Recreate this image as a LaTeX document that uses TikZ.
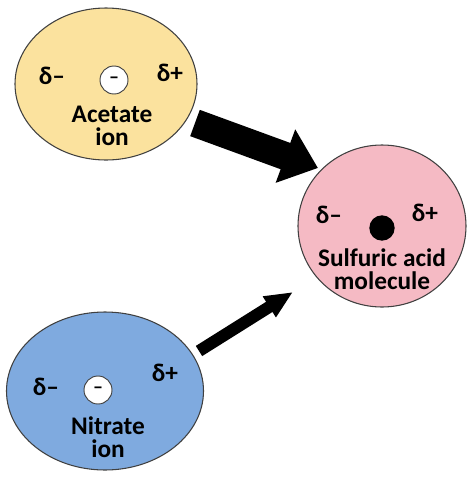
\documentclass[tikz,border=0pt]{standalone}
\usepackage{fontspec}
\setmainfont{Carlito}
\usetikzlibrary{arrows.meta,shapes.geometric}
\definecolor{acetfill}{HTML}{FBE29E}
\definecolor{sulffill}{HTML}{F5BAC4}
\definecolor{nitrfill}{HTML}{7FAADF}
\definecolor{edgecol}{HTML}{404040}
\tikzset{
  mol/.style={ellipse, draw=edgecol, line width=0.8pt, inner sep=0pt},
  lbl/.style={font=\bfseries\fontsize{19}{17.5}\selectfont, align=center, inner sep=0pt},
  dlt/.style={font=\bfseries\fontsize{19}{19}\selectfont, inner sep=0pt},
  chg/.style={circle, draw=edgecol, fill=white, line width=0.7pt, minimum size=21pt, inner sep=0pt, font=\bfseries\fontsize{15}{15}\selectfont},
  bigarrow/.style={line width=21pt, -{Triangle[length=26pt,width=41pt]}},
  smallarrow/.style={line width=9pt, -{Triangle[length=21pt,width=17pt]}}
}
\begin{document}
\begin{tikzpicture}[x=0.75pt,y=-0.75pt]
\useasboundingbox (0,0) rectangle (474,479);
% acetate
\node[mol, fill=acetfill, minimum width=182*0.75pt, minimum height=152*0.75pt] (acet) at (106,84) {};
\node[dlt] (acetdm) at (52,76) {δ–};
\node[dlt] (acetdp) at (170,73) {δ+};
\node[chg] (acetc) at (114,80) {–};
\node[lbl] (acett) at (112,126) {Acetate\\ion};
% sulfuric
\node[mol, fill=sulffill, minimum width=168*0.75pt, minimum height=162*0.75pt] (sulf) at (382,226) {};
\node[dlt] (sulfdm) at (329,215) {δ–};
\node[dlt] (sulfdp) at (425,213) {δ+};
\node[circle, fill=black, minimum size=19pt, inner sep=0pt] (sulfdot) at (382,228) {};
\node[lbl] (sulft) at (382,269) {Sulfuric acid\\molecule};
% nitrate
\node[mol, fill=nitrfill, minimum width=197*0.75pt, minimum height=158*0.75pt] (nitr) at (105,391) {};
\node[dlt] (nitrdm) at (46,387) {δ–};
\node[dlt] (nitrdp) at (165,373) {δ+};
\node[chg] (nitrc) at (98,390) {–};
\node[lbl] (nitrt) at (108,437) {Nitrate\\ion};
% arrows
\coordinate (a1s) at (195,123);
\coordinate (a1e) at (318,168);
\coordinate (a2s) at (199,351);
\coordinate (a2e) at (293,292);
\draw[bigarrow] (a1s) -- (a1e);
\draw[smallarrow] (a2s) -- (a2e);
\end{tikzpicture}
\end{document}
